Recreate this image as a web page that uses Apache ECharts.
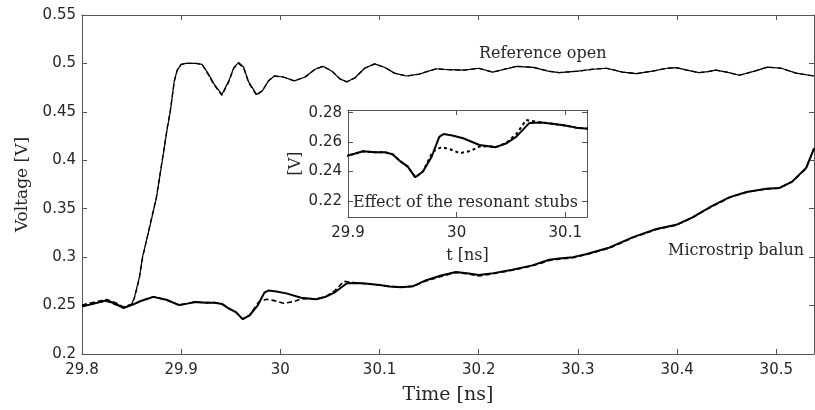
<!DOCTYPE html>
<html>
<head>
<meta charset="utf-8">
<script src="https://cdn.jsdelivr.net/npm/echarts@6/dist/echarts.min.js"></script>
<style>
html,body{margin:0;padding:0;background:#fff;}
#chart{width:815px;height:410px;}
</style>
</head>
<body>
<div id="chart"></div>
<script>
// ---- tick labels ----
var xTicks = [29.8, 29.9, 30.0, 30.1, 30.2, 30.3, 30.4, 30.5];
var yTicks = [0.2, 0.25, 0.3, 0.35, 0.4, 0.45, 0.5, 0.55];
var insetXTicks = [29.9, 30.0, 30.1];
var insetYTicks = [0.22, 0.24, 0.26, 0.28];

// ---- series: [time ns, voltage V] ----
var refOpen = [
  [29.800,0.249],[29.812,0.252],[29.825,0.2555],[29.835,0.252],[29.842,0.2475],[29.850,0.251],
  [29.853,0.259],[29.858,0.280],[29.861,0.300],[29.868,0.330],[29.875,0.361],[29.881,0.400],
  [29.886,0.433],[29.889,0.450],[29.893,0.482],[29.896,0.493],[29.900,0.499],[29.905,0.500],
  [29.915,0.500],[29.921,0.499],[29.927,0.490],[29.933,0.479],[29.941,0.468],[29.948,0.482],
  [29.953,0.4956],[29.958,0.501],[29.963,0.496],[29.968,0.481],[29.976,0.468],[29.982,0.472],
  [29.988,0.482],[29.994,0.487],[30.003,0.486],[30.014,0.482],[30.025,0.486],[30.035,0.494],
  [30.043,0.497],[30.052,0.492],[30.060,0.484],[30.067,0.481],[30.075,0.485],[30.085,0.495],
  [30.095,0.4995],[30.105,0.496],[30.115,0.490],[30.127,0.487],[30.140,0.489],[30.157,0.4945],
  [30.170,0.4935],[30.185,0.493],[30.200,0.495],[30.214,0.491],[30.226,0.494],[30.238,0.497],
  [30.255,0.496],[30.270,0.492],[30.281,0.4905],[30.300,0.492],[30.315,0.494],[30.329,0.495],
  [30.345,0.491],[30.359,0.4895],[30.375,0.492],[30.390,0.495],[30.399,0.4956],[30.410,0.493],
  [30.422,0.4905],[30.431,0.4915],[30.439,0.493],[30.450,0.491],[30.463,0.4878],[30.478,0.492],
  [30.491,0.4962],[30.505,0.495],[30.520,0.490],[30.538,0.487]
];
var refOpenDash = [
  [29.800,0.2505],[29.812,0.2535],[29.825,0.2565],[29.835,0.2525],[29.842,0.2485],[29.850,0.2515],
  [29.853,0.258],[29.858,0.279],[29.861,0.299],[29.868,0.331],[29.875,0.362],[29.881,0.401],
  [29.886,0.434],[29.889,0.451],[29.893,0.481],[29.896,0.493],[29.900,0.499],[29.905,0.500],
  [29.915,0.500],[29.921,0.499],[29.927,0.489],[29.933,0.478],[29.941,0.467],[29.948,0.481],
  [29.953,0.495],[29.958,0.500],[29.963,0.495],[29.968,0.480],[29.976,0.467],[29.982,0.472],
  [29.988,0.482],[29.994,0.487],[30.003,0.486],[30.014,0.482],[30.025,0.486],[30.035,0.494],
  [30.043,0.497],[30.052,0.492],[30.060,0.484],[30.067,0.481],[30.075,0.485],[30.085,0.495],
  [30.095,0.4995],[30.105,0.496],[30.115,0.490],[30.127,0.487],[30.140,0.489],[30.157,0.4945],
  [30.170,0.4935],[30.185,0.493],[30.200,0.495],[30.214,0.491],[30.226,0.494],[30.238,0.497],
  [30.255,0.496],[30.270,0.492],[30.281,0.4905],[30.300,0.492],[30.315,0.494],[30.329,0.495],
  [30.345,0.491],[30.359,0.4895],[30.375,0.492],[30.390,0.495],[30.399,0.4956],[30.410,0.493],
  [30.422,0.4905],[30.431,0.4915],[30.439,0.493],[30.450,0.491],[30.463,0.4878],[30.478,0.492],
  [30.491,0.4962],[30.505,0.495],[30.520,0.490],[30.538,0.487]
];
var balun = [
  [29.800,0.249],[29.812,0.252],[29.825,0.2555],[29.835,0.251],[29.842,0.2475],[29.850,0.2505],
  [29.860,0.255],[29.872,0.259],[29.885,0.256],[29.898,0.2505],[29.906,0.252],[29.914,0.2537],
  [29.925,0.253],[29.934,0.253],[29.941,0.2517],[29.948,0.247],[29.955,0.2433],[29.962,0.236],
  [29.969,0.240],[29.977,0.250],[29.984,0.2635],[29.988,0.2655],[29.996,0.2645],[30.006,0.2626],
  [30.021,0.258],[30.036,0.2565],[30.046,0.2592],[30.055,0.2637],[30.067,0.273],[30.078,0.2733],
  [30.088,0.2725],[30.100,0.2712],[30.110,0.2698],[30.122,0.269],[30.134,0.270],[30.147,0.2762],
  [30.162,0.281],[30.177,0.2847],[30.190,0.283],[30.200,0.2815],[30.215,0.2835],[30.234,0.287],
  [30.254,0.2915],[30.271,0.2973],[30.281,0.2985],[30.295,0.300],[30.308,0.303],[30.332,0.310],
  [30.355,0.3204],[30.379,0.329],[30.399,0.3334],[30.415,0.3408],[30.435,0.3527],[30.453,0.362],
  [30.470,0.3673],[30.490,0.3707],[30.503,0.3714],[30.516,0.378],[30.530,0.392],[30.538,0.4122]
];
var balunDash = [
  [29.800,0.2505],[29.812,0.253],[29.825,0.2545],[29.835,0.2505],[29.842,0.2485],[29.850,0.251],
  [29.860,0.255],[29.872,0.259],[29.885,0.256],[29.898,0.2505],[29.906,0.252],[29.914,0.2537],
  [29.925,0.253],[29.934,0.253],[29.941,0.2517],[29.948,0.247],[29.955,0.2433],[29.962,0.236],
  [29.969,0.240],[29.974,0.2475],[29.978,0.2535],[29.986,0.2565],[29.994,0.2551],[30.003,0.2524],
  [30.013,0.254],[30.021,0.2569],[30.030,0.2572],[30.036,0.2565],[30.046,0.2595],[30.055,0.2655],
  [30.064,0.275],[30.078,0.2733],[30.088,0.2725],[30.100,0.2712],[30.110,0.2698],[30.122,0.269],
  [30.134,0.270],[30.147,0.2755],[30.162,0.280],[30.177,0.2842],[30.190,0.2825],[30.200,0.2805],
  [30.215,0.283],[30.234,0.2865],[30.254,0.291],[30.271,0.2965],[30.281,0.298],[30.295,0.2995],
  [30.308,0.3025],[30.332,0.3095],[30.355,0.320],[30.379,0.3285],[30.399,0.333],[30.415,0.3405],
  [30.435,0.3522],[30.453,0.3615],[30.470,0.367],[30.490,0.3705],[30.503,0.3712],[30.516,0.3778],
  [30.530,0.3915],[30.538,0.412]
];

function fmt(v){ return String(+(+v).toFixed(2)); }

var axisCol = '#555';
var tickFont = {fontFamily:'DejaVu Sans', fontSize:15, color:'#262626'};
var serif = 'DejaVu Serif';

function xAx(grid, pos, mn, mx, ticks, showLabels, extra){
  var a = {
    type:'value', gridIndex:grid, position:pos, min:mn, max:mx,
    axisLine:{show:true, onZero:false, lineStyle:{color:axisCol, width:1}},
    axisTick:{show:true, inside:true, length:5, customValues:ticks, lineStyle:{color:axisCol}},
    axisLabel:Object.assign({show:showLabels, customValues:ticks, formatter:fmt, margin:9}, tickFont),
    splitLine:{show:false}
  };
  return Object.assign(a, extra||{});
}
function yAx(grid, pos, mn, mx, ticks, showLabels, extra){
  var a = {
    type:'value', gridIndex:grid, position:pos, min:mn, max:mx,
    axisLine:{show:true, onZero:false, lineStyle:{color:axisCol, width:1}},
    axisTick:{show:true, inside:true, length:5, customValues:ticks, lineStyle:{color:axisCol}},
    axisLabel:Object.assign({show:showLabels, customValues:ticks, formatter:fmt, margin:6}, tickFont),
    splitLine:{show:false}
  };
  return Object.assign(a, extra||{});
}

var chart = echarts.init(document.getElementById('chart'), null, {renderer:'canvas'});
chart.setOption({
  animation:false,
  backgroundColor:'#fff',
  grid:[
    {left:82, top:15, right:1, bottom:52},
    {left:348, top:110, right:228, bottom:193, show:true, backgroundColor:'#fff', borderWidth:0}
  ],
  xAxis:[
    xAx(0,'bottom',29.8,30.538,xTicks,true,{name:'Time [ns]', nameLocation:'middle', nameGap:32,
      nameTextStyle:{fontFamily:serif, fontSize:19, color:'#262626'}}),
    xAx(0,'top',29.8,30.538,xTicks,false),
    xAx(1,'bottom',29.9,30.12,insetXTicks,true,{name:'t [ns]', nameLocation:'middle', nameGap:31,
      nameTextStyle:{fontFamily:serif, fontSize:16, color:'#262626'}}),
    xAx(1,'top',29.9,30.12,insetXTicks,false)
  ],
  yAxis:[
    yAx(0,'left',0.2,0.55,yTicks,true,{name:'Voltage [V]', nameLocation:'middle', nameGap:51, nameRotate:90,
      nameTextStyle:{fontFamily:serif, fontSize:17, color:'#262626'}}),
    yAx(0,'right',0.2,0.55,yTicks,false),
    yAx(1,'left',0.209,0.2818,insetYTicks,true,{name:'[V]', nameLocation:'middle', nameGap:44, nameRotate:90,
      nameTextStyle:{fontFamily:serif, fontSize:16, color:'#262626'}}),
    yAx(1,'right',0.209,0.2818,insetYTicks,false)
  ],
  series:[
    {type:'line', xAxisIndex:0, yAxisIndex:0, data:refOpenDash, showSymbol:false, symbol:'none',
      lineStyle:{color:'#000', width:1.3, type:[5,3]}},
    {type:'line', xAxisIndex:0, yAxisIndex:0, data:refOpen, showSymbol:false, symbol:'none',
      lineStyle:{color:'#000', width:1.2}},
    {type:'line', xAxisIndex:0, yAxisIndex:0, data:balunDash, showSymbol:false, symbol:'none',
      lineStyle:{color:'#000', width:1.6, type:[5,3]}},
    {type:'line', xAxisIndex:0, yAxisIndex:0, data:balun, showSymbol:false, symbol:'none',
      lineStyle:{color:'#000', width:2}},
    {type:'line', xAxisIndex:2, yAxisIndex:2, data:balunDash, showSymbol:false, symbol:'none', clip:true,
      lineStyle:{color:'#000', width:2, type:[3,3]}},
    {type:'line', xAxisIndex:2, yAxisIndex:2, data:balun, showSymbol:false, symbol:'none', clip:true,
      lineStyle:{color:'#000', width:2}}
  ],
  graphic:[
    {type:'text', left:479, top:46, style:{text:'Reference open', font:'16px "DejaVu Serif"', fill:'#262626'}},
    {type:'text', left:668, top:243, style:{text:'Microstrip balun', font:'16px "DejaVu Serif"', fill:'#262626'}},
    {type:'text', left:353, top:195, style:{text:'Effect of the resonant stubs', font:'16px "DejaVu Serif"', fill:'#262626'}}
  ]
});
</script>
</body>
</html>
